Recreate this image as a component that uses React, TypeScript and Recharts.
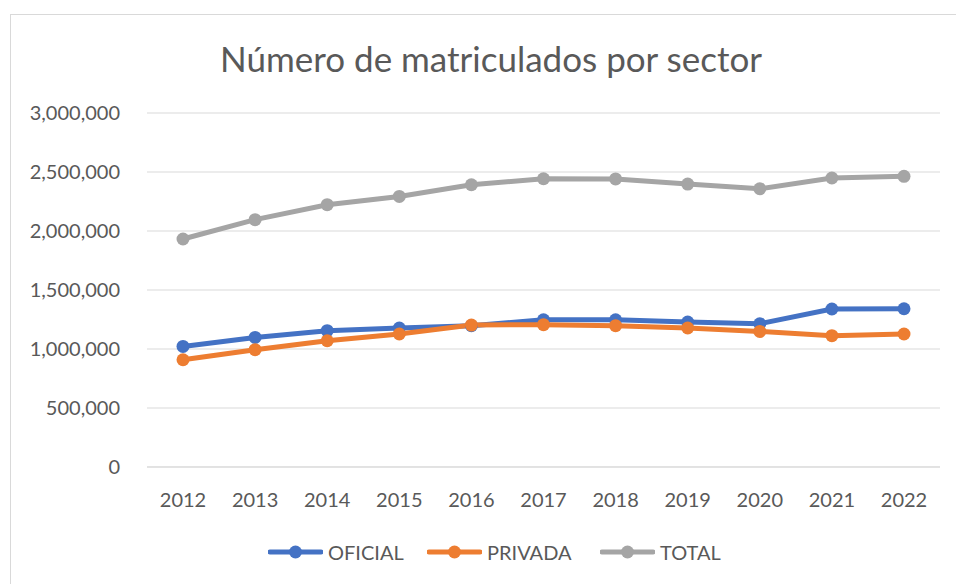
import { CartesianGrid, Line, LineChart, XAxis, YAxis } from 'recharts'

// Matrícula por sector, 2012–2022
const YEARS = ['2012', '2013', '2014', '2015', '2016', '2017', '2018', '2019', '2020', '2021', '2022']
const OFICIAL = [1022000, 1098000, 1155000, 1178000, 1197000, 1248000, 1248000, 1229000, 1214000, 1339000, 1341000]
const PRIVADA = [909000, 994000, 1070000, 1127000, 1203000, 1206000, 1198000, 1178000, 1149000, 1113000, 1127000]
const TOTAL = [1932000, 2096000, 2223000, 2293000, 2392000, 2443000, 2441000, 2398000, 2358000, 2449000, 2463000]
const Y_TICKS = [0, 500000, 1000000, 1500000, 2000000, 2500000, 3000000]

const SERIES = [
  { key: 'OFICIAL', color: '#4472c4' },
  { key: 'PRIVADA', color: '#ed7d31' },
  { key: 'TOTAL', color: '#a5a5a5' },
]
// left edge of each legend entry, px inside the frame
const LEGEND_X = [257, 416, 589]

const TEXT = '#595959'
const GRID = '#d9d9d9'
const FONT = 'Lato, "Open Sans", sans-serif'

const data = YEARS.map((year, i) => ({
  year,
  OFICIAL: OFICIAL[i],
  PRIVADA: PRIVADA[i],
  TOTAL: TOTAL[i],
}))

const fmt = (v: number) => v.toLocaleString('en-US')

function LegendRow() {
  return (
    <>
      {SERIES.map((s, i) => (
        <span
          key={s.key}
          style={{
            position: 'absolute',
            left: LEGEND_X[i],
            top: 525,
            display: 'inline-flex',
            alignItems: 'center',
            gap: 5,
            fontFamily: FONT,
            fontSize: 20,
            color: TEXT,
            whiteSpace: 'nowrap',
          }}
        >
          <svg width={55} height={16}>
            <line x1={2} y1={8} x2={53} y2={8} stroke={s.color} strokeWidth={5} strokeLinecap="round" />
            <circle cx={27.5} cy={8} r={6.5} fill={s.color} />
          </svg>
          {s.key}
        </span>
      ))}
    </>
  )
}

export default function App() {
  return (
    <div style={{ position: 'relative', width: 956, height: 584, overflow: 'hidden', background: '#fff' }}>
      <style>{'body { margin: 0; }'}</style>
      <div
        style={{
          position: 'absolute',
          left: 10,
          top: 14,
          width: 945,
          height: 569,
          borderTop: `1px solid ${GRID}`,
          borderLeft: `1px solid ${GRID}`,
        }}
      >
        <div
          style={{
            position: 'absolute',
            left: 0,
            top: 22,
            width: 944,
            boxSizing: 'border-box',
            paddingLeft: 16,
            textAlign: 'center',
            fontFamily: FONT,
            fontSize: 35,
            color: TEXT,
            whiteSpace: 'nowrap',
          }}
        >
          Número de matriculados por sector
        </div>
        <LineChart width={944} height={560} data={data} margin={{ top: 98, right: 15, bottom: 78, left: 0 }}>
          <CartesianGrid vertical={false} stroke={GRID} strokeWidth={1} />
          <XAxis
            dataKey="year"
            padding={{ left: 36, right: 36 }}
            axisLine={{ stroke: GRID }}
            tickLine={false}
            tickSize={0}
            tickMargin={26}
            tick={{ fill: TEXT, fontSize: 20, fontFamily: FONT }}
          />
          <YAxis
            domain={[0, 3000000]}
            ticks={Y_TICKS}
            width={136}
            axisLine={false}
            tickLine={false}
            tickSize={0}
            tickMargin={27}
            tickFormatter={fmt}
            tick={{ fill: TEXT, fontSize: 20, fontFamily: FONT }}
          />
          {SERIES.map((s) => (
            <Line
              key={s.key}
              dataKey={s.key}
              stroke={s.color}
              strokeWidth={5}
              dot={{ r: 6.5, fill: s.color, stroke: 'none' }}
              activeDot={false}
              isAnimationActive={false}
            />
          ))}
        </LineChart>
        <LegendRow />
      </div>
    </div>
  )
}
